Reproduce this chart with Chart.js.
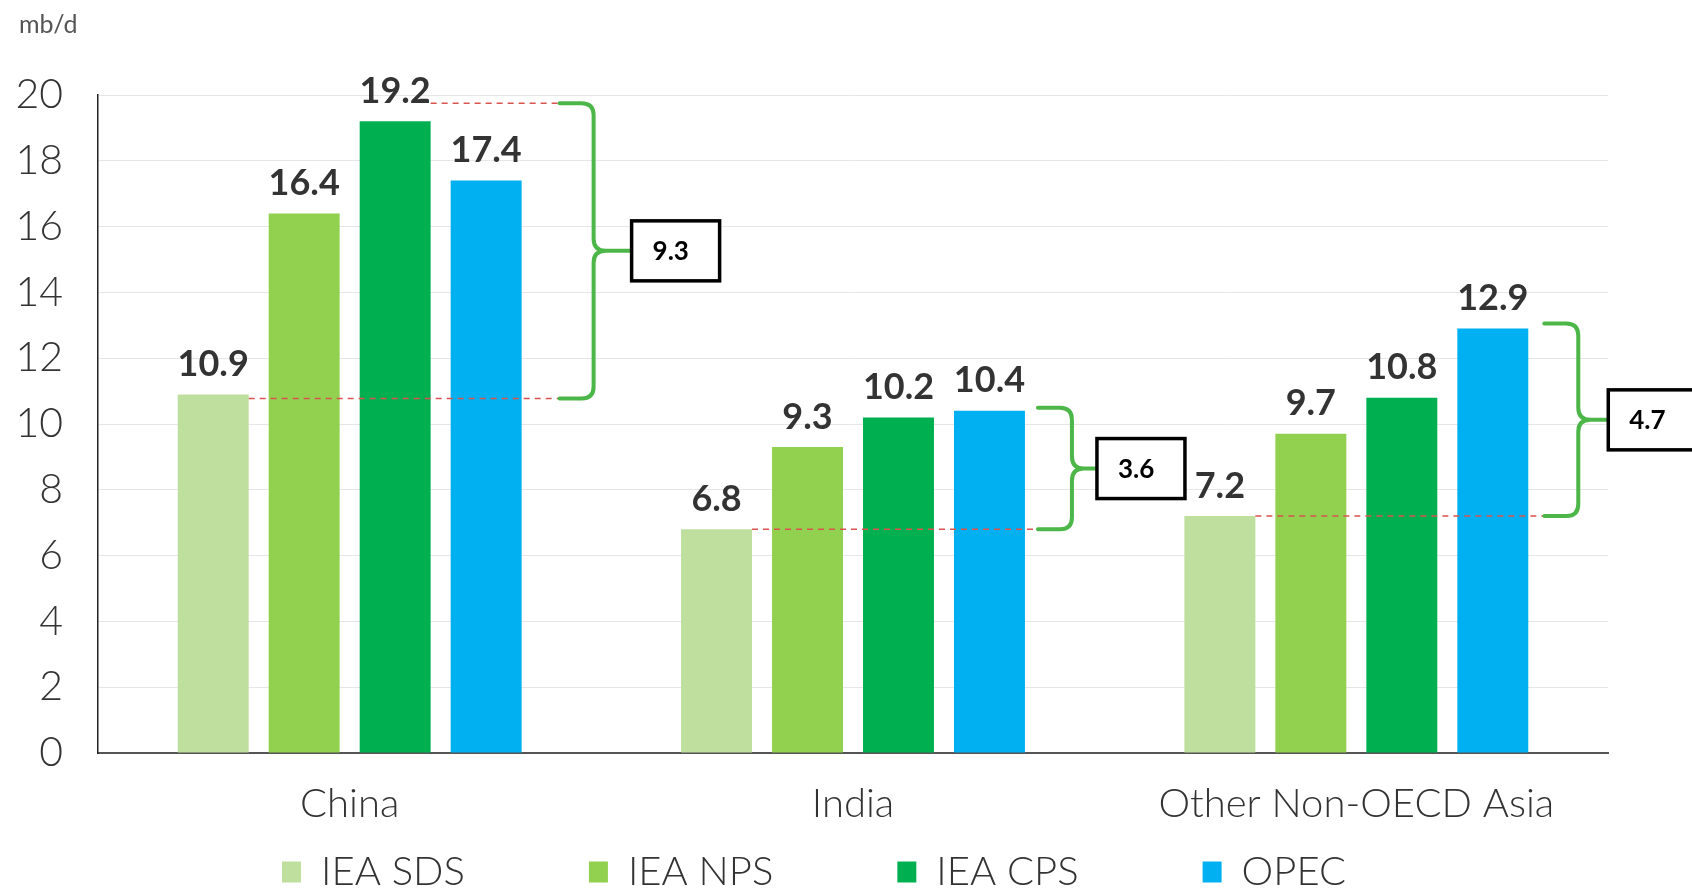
<!DOCTYPE html>
<html>
<head>
<meta charset="utf-8">
<script src="https://cdn.jsdelivr.net/npm/chart.js@4/dist/chart.umd.min.js"></script>
<style>
html,body{margin:0;padding:0;background:#fff;}
#wrap{width:1692px;height:890px;position:relative;}
</style>
</head>
<body>
<div id="wrap"><canvas id="c" width="1692" height="890"></canvas></div>
<script>
// ---- data ----
const categories = ['China', 'India', 'Other Non-OECD Asia'];
const seriesNames = ['IEA SDS', 'IEA NPS', 'IEA CPS', 'OPEC'];
const sdsValues = [10.9, 6.8, 7.2];
const npsValues = [16.4, 9.3, 9.7];
const cpsValues = [19.2, 10.2, 10.8];
const opecValues = [17.4, 10.4, 12.9];
const spreadLabels = ['9.3', '3.6', '4.7'];
const yTickValues = [0, 2, 4, 6, 8, 10, 12, 14, 16, 18, 20];
const unitLabel = 'mb/d';

// ---- styles ----
const seriesColors = ['#bfdf9e', '#92d050', '#00b050', '#00b0f0'];
const bracketGap = [38, 13, 16];
const boxGap = [38, 25, 30];
const topShift = [-18, -3, -5];
const bottomShift = [4, 0, 0];
const axisFont = 'Lato';
const legendDx = 10;

const annotPlugin = {
  id: 'annot',
  afterDatasetsDraw(chart) {
    const ctx = chart.ctx;
    const ys = chart.scales.y;
    // value labels
    chart.data.datasets.forEach((ds, di) => {
      const meta = chart.getDatasetMeta(di);
      meta.data.forEach((bar, i) => {
        ctx.save();
        ctx.font = 'bold 36px Lato';
        ctx.fillStyle = '#333333';
        ctx.textAlign = 'center';
        ctx.textBaseline = 'middle';
        ctx.fillText(ds.data[i].toFixed(1), bar.x, bar.y - 30);
        ctx.restore();
      });
    });
    // brackets
    categories.forEach((cat, i) => {
      const vals = chart.data.datasets.map(d => d.data[i]);
      const maxV = Math.max(...vals), minV = Math.min(...vals);
      const maxIdx = vals.indexOf(maxV), minIdx = vals.indexOf(minV);
      const n = vals.length;
      const lastBar = chart.getDatasetMeta(n - 1).data[i];
      const maxBar = chart.getDatasetMeta(maxIdx).data[i];
      const minBar = chart.getDatasetMeta(minIdx).data[i];
      const x0 = lastBar.x + lastBar.width / 2 + bracketGap[i];
      const xv = x0 + 34;
      const yt = ys.getPixelForValue(maxV) + topShift[i];
      const yb = ys.getPixelForValue(minV) + bottomShift[i];
      const ym = (yt + yb) / 2;
      const r = 12;
      ctx.save();
      ctx.strokeStyle = '#d9534f';
      ctx.lineWidth = 1.5;
      ctx.setLineDash([6, 5]);
      if (maxIdx !== n - 1) {
        ctx.beginPath();
        ctx.moveTo(maxBar.x + maxBar.width / 2, yt);
        ctx.lineTo(x0, yt);
        ctx.stroke();
      }
      ctx.beginPath();
      ctx.moveTo(minBar.x + minBar.width / 2, yb);
      ctx.lineTo(x0, yb);
      ctx.stroke();
      ctx.setLineDash([]);
      // curly bracket
      const bx = xv + boxGap[i];
      ctx.strokeStyle = '#4cb748';
      ctx.lineWidth = 4;
      ctx.lineCap = 'round';
      ctx.beginPath();
      ctx.moveTo(x0, yt);
      ctx.lineTo(xv - r, yt);
      ctx.quadraticCurveTo(xv, yt, xv, yt + r);
      ctx.lineTo(xv, ym - r);
      ctx.quadraticCurveTo(xv, ym, xv + r, ym);
      ctx.lineTo(bx, ym);
      ctx.moveTo(xv + r, ym);
      ctx.quadraticCurveTo(xv, ym, xv, ym + r);
      ctx.lineTo(xv, yb - r);
      ctx.quadraticCurveTo(xv, yb, xv - r, yb);
      ctx.lineTo(x0, yb);
      ctx.stroke();
      // box
      const bw = 88, bh = 60;
      ctx.fillStyle = '#ffffff';
      ctx.fillRect(bx, ym - bh / 2, bw, bh);
      ctx.strokeStyle = '#000000';
      ctx.lineWidth = 3.5;
      ctx.strokeRect(bx, ym - bh / 2, bw, bh);
      ctx.fillStyle = '#000000';
      ctx.font = 'bold 26px Lato';
      ctx.textAlign = 'left';
      ctx.textBaseline = 'middle';
      ctx.fillText(spreadLabels[i], bx + 21, ym + 1);
      ctx.restore();
    });
    // unit label
    ctx.save();
    ctx.font = '25px Lato';
    ctx.fillStyle = '#555';
    ctx.textAlign = 'left';
    ctx.textBaseline = 'middle';
    ctx.fillText(unitLabel, 19, 25);
    ctx.restore();
  }
};

const legendShift = {
  id: 'legendShift',
  afterLayout(chart) {
    const lg = chart.legend;
    if (!lg) return;
    const pad = lg.options.labels.padding;
    const itemH = Math.max(lg.options.labels.font.size, lg.options.labels.boxHeight);
    const targetY = 872 - itemH / 2;
    const dy = (lg.top + pad) - targetY;
    lg.top -= dy;
    lg.left += legendDx;
    lg.right += legendDx;
  }
};

const datasets = [sdsValues, npsValues, cpsValues, opecValues].map((vals, k) => ({
  label: seriesNames[k],
  data: vals,
  backgroundColor: seriesColors[k],
  borderWidth: 0,
  categoryPercentage: 0.723,
  barPercentage: 0.78
}));

new Chart(document.getElementById('c'), {
  type: 'bar',
  data: { labels: categories, datasets },
  options: {
    responsive: false,
    animation: false,
    devicePixelRatio: 1,
    layout: { padding: { top: 95, right: 84, left: 0, bottom: 0 } },
    plugins: {
      tooltip: { enabled: false },
      legend: {
        position: 'bottom',
        maxHeight: 52,
        labels: {
          boxWidth: 19,
          boxHeight: 21,
          padding: 124,
          color: '#333',
          font: { family: axisFont, size: 40, weight: '300' }
        }
      }
    },
    scales: {
      x: {
        grid: { display: false, drawTicks: false },
        border: { color: '#555', width: 2 },
        ticks: { color: '#333', padding: 27, font: { family: axisFont, size: 40, weight: '300' } },
        afterFit(s) { s.height = 85; }
      },
      y: {
        min: 0, max: 20,
        afterBuildTicks(s) { s.ticks = yTickValues.map(v => ({ value: v })); },
        grid: { color: '#e6e6e6', drawTicks: false, lineWidth: 1 },
        border: { color: '#222', width: 1.5 },
        ticks: { color: '#333', padding: 35, font: { family: axisFont, size: 41, weight: '300' } },
        afterFit(s) { s.width = 98; }
      }
    }
  },
  plugins: [annotPlugin, legendShift]
});
</script>
</body>
</html>
